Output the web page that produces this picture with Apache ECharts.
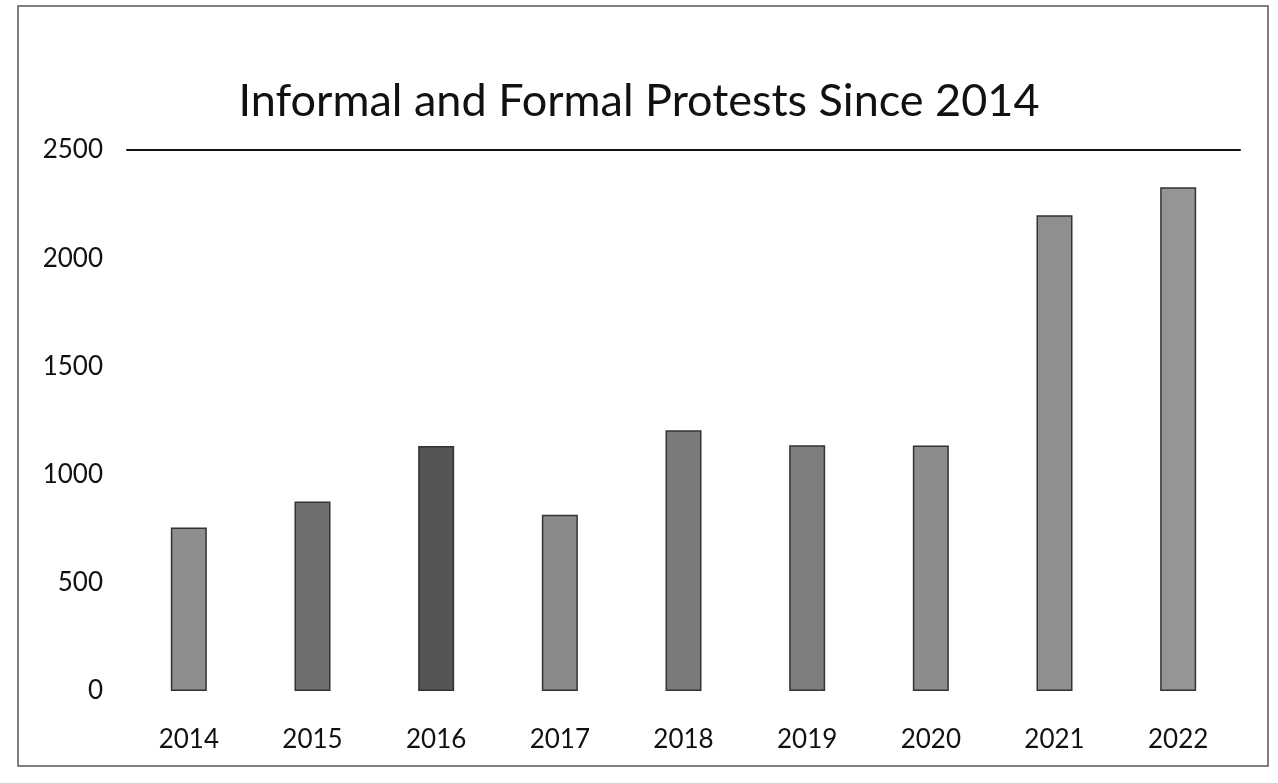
<!DOCTYPE html>
<html>
<head>
<meta charset="utf-8">
<script src="https://cdn.jsdelivr.net/npm/echarts@6/dist/echarts.min.js"></script>
<style>
html, body { margin: 0; padding: 0; background: #fff; }
#chart_protests { width: 1278px; height: 783px; }
</style>
</head>
<body>
<div id="chart_protests"></div>
<script>
// 年份 / 数量
var years = ['2014', '2015', '2016', '2017', '2018', '2019', '2020', '2021', '2022'];
var protests = [755, 876, 1132, 815, 1205, 1136, 1134, 2198, 2328];
var yTicks = [0, 500, 1000, 1500, 2000, 2500];
// 柱子灰度（扫描件效果）
var barShades = ['#8e8e8e', '#6f6f6f', '#555555', '#8a8a8a', '#7a7a7a', '#7e7e7e', '#8c8c8c', '#8f8f8f', '#959595'];

var fontName = 'Lato, "Noto Sans", sans-serif';

var barData = protests.map(function(v, i) {
	return {
		value: v,
		itemStyle: { color: barShades[i] }
	};
});

var option_protests = {
	backgroundColor: '#fff',
	title: {
		text: 'Informal and Formal Protests Since 2014',
		left: 'center',
		top: 74,
		textStyle: {
			fontFamily: fontName,
			fontSize: 45,
			fontWeight: 'normal',
			color: '#111'
		}
	},
	graphic: [{
		type: 'rect',
		shape: { x: 18, y: 6, width: 1250, height: 760 },
		style: { fill: 'none', stroke: '#555', lineWidth: 1.5 },
		silent: true
	}],
	grid: {
		left: 127,
		right: 38,
		top: 150,
		bottom: 92
	},
	xAxis: [{
		type: 'category',
		data: years,
		axisLine: { show: false },
		axisTick: { show: false },
		axisLabel: {
			margin: 36,
			fontFamily: fontName,
			fontSize: 26,
			color: '#111'
		}
	}, {
		// 顶部的那条线
		type: 'category',
		position: 'top',
		data: years,
		axisLine: { show: true, lineStyle: { color: '#111', width: 2 } },
		axisTick: { show: false },
		axisLabel: { show: false }
	}],
	yAxis: {
		type: 'value',
		min: yTicks[0],
		max: yTicks[yTicks.length - 1],
		interval: 500,
		axisLine: { show: false },
		axisTick: { show: false },
		splitLine: { show: false },
		axisLabel: {
			margin: 24,
			fontFamily: fontName,
			fontSize: 26,
			color: '#111',
			formatter: function(v) { return String(v); }
		}
	},
	series: [{
		type: 'bar',
		data: barData,
		barWidth: 36,
		itemStyle: {
			borderColor: '#333',
			borderWidth: 1.5
		}
	}]
};
var protestsChart = echarts.init(document.getElementById('chart_protests'));
protestsChart.setOption(option_protests);
</script>
</body>
</html>
